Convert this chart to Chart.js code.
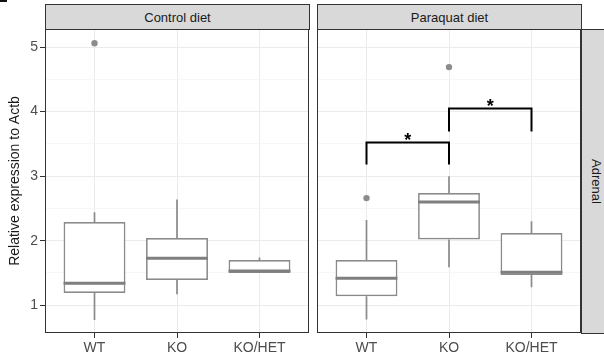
<!DOCTYPE html>
<html>
<head>
<meta charset="utf-8">
<script src="https://cdn.jsdelivr.net/npm/chart.js@4.4.1/dist/chart.umd.min.js"></script>
<style>
  body { margin: 0; background: #fff; width: 604px; height: 355px; overflow: hidden; position: relative; font-family: "Liberation Sans", Arial, sans-serif; }
  canvas { position: absolute; top: 0; }
  .strip { position: absolute; background: #d9d9d9; border: 1px solid #333; box-sizing: border-box; color: #1a1a1a; font-size: 13px; display: flex; align-items: center; justify-content: center; }
  .vert span { transform: rotate(90deg); white-space: nowrap; }
  .corner { position: absolute; left: 0; top: 0; width: 7px; height: 2px; background: #111; }
</style>
</head>
<body>
<div class="corner"></div>
<canvas id="left" width="314" height="355" style="left:0"></canvas>
<canvas id="right" width="274" height="355" style="left:312px"></canvas>
<div class="strip" style="left:45px;top:4px;width:265px;height:26px">Control diet</div>
<div class="strip" style="left:317px;top:4px;width:265px;height:26px">Paraquat diet</div>
<div class="strip vert" style="left:581px;top:29px;width:30px;height:305px"><span>Adrenal</span></div>
<script>
const categories = ['WT', 'KO', 'KO/HET'];
const yTicks = [1, 1.5, 2, 2.5, 3, 3.5, 4, 4.5, 5];

// Control diet
const controlMin = [0.77, 1.17, 1.50];
const controlQ1 = [1.19, 1.39, 1.50];
const controlMedian = [1.34, 1.73, 1.53];
const controlQ3 = [2.29, 2.04, 1.70];
const controlMax = [2.44, 2.64, 1.74];
const controlOutliers = [[5.06], [], []];

// Paraquat diet
const paraquatMin = [0.78, 1.59, 1.28];
const paraquatQ1 = [1.14, 2.02, 1.47];
const paraquatMedian = [1.42, 2.60, 1.51];
const paraquatQ3 = [1.70, 2.74, 2.12];
const paraquatMax = [2.32, 3.00, 2.30];
const paraquatOutliers = [[2.66], [4.69], []];

// significance brackets: [from, to, bottom left, bottom right, top]
const brackets = [[1, 2, 3.18, 3.18, 3.52], [2, 3, 3.69, 3.69, 4.05]];
const sigLabels = ['*', '*'];
const sigY = [3.61, 4.14];

const boxColor = '#8a8a8a';

function buildDatasets(mins, q1, med, q3, maxs, outl, withBrackets) {
  const whiskers = [], medians = [], points = [];
  categories.forEach((c, i) => {
    const x = i + 1;
    whiskers.push({x: x, y: q3[i]}, {x: x, y: maxs[i]}, {x: x, y: null});
    whiskers.push({x: x, y: q1[i]}, {x: x, y: mins[i]}, {x: x, y: null});
    medians.push({x: x - 0.375, y: med[i]}, {x: x + 0.375, y: med[i]}, {x: x, y: null});
    outl[i].forEach(v => points.push({x: x, y: v}));
  });
  const ds = [
    {type: 'bar', data: categories.map((c, i) => ({x: i + 1, y: [q1[i], q3[i]]})),
      backgroundColor: '#fff', borderColor: boxColor, borderWidth: 1.7, borderSkipped: false,
      categoryPercentage: 1, barPercentage: 0.75, order: 5},
    {type: 'line', data: whiskers, borderColor: boxColor, borderWidth: 1.7, pointRadius: 0, order: 4},
    {type: 'line', data: medians, borderColor: '#7f7f7f', borderWidth: 3, pointRadius: 0, order: 3},
    {type: 'scatter', data: points, backgroundColor: '#8c8c8c', borderWidth: 0, pointRadius: 3.2, order: 2}
  ];
  if (withBrackets) {
    const b = [];
    brackets.forEach(r => {
      b.push({x: r[0], y: r[2]}, {x: r[0], y: r[4]}, {x: r[1], y: r[4]}, {x: r[1], y: r[3]}, {x: r[1], y: null});
    });
    ds.push({type: 'line', data: b, borderColor: '#000', borderWidth: 2, pointRadius: 0, order: 1});
  }
  return ds;
}

const panelBorder = {
  id: 'panelBorder',
  afterDraw(chart) {
    const a = chart.chartArea, ctx = chart.ctx;
    ctx.save();
    ctx.strokeStyle = '#333';
    ctx.lineWidth = 1;
    ctx.strokeRect(Math.round(a.left) + 0.5, Math.round(a.top) + 0.5, Math.round(a.width) - 1, Math.round(a.height) - 1);
    ctx.restore();
  }
};

const stars = {
  id: 'stars',
  afterDatasetsDraw(chart) {
    if (!chart.options.plugins.stars.show) return;
    const ctx = chart.ctx, xs = chart.scales.x, ys = chart.scales.y;
    ctx.save();
    ctx.font = 'bold 18px "Liberation Sans", Arial, sans-serif';
    ctx.fillStyle = '#000';
    ctx.textAlign = 'center';
    ctx.textBaseline = 'middle';
    brackets.forEach((r, i) => {
      ctx.fillText(sigLabels[i], xs.getPixelForValue((r[0] + r[1]) / 2), ys.getPixelForValue(sigY[i]) + 4);
    });
    ctx.restore();
  }
};

function makeOptions(isLeft) {
  return {
    responsive: false,
    animation: false,
    layout: {padding: {top: 29, right: 5, left: isLeft ? 0 : 5, bottom: 0}},
    plugins: {legend: {display: false}, tooltip: {enabled: false}, stars: {show: !isLeft}},
    scales: {
      x: {
        type: 'linear', min: 0.4, max: 3.6, offset: false,
        afterBuildTicks: s => { s.ticks = [1, 2, 3].map(v => ({value: v})); },
        afterFit: s => { s.height = 22; },
        ticks: {autoSkip: false, padding: 2, color: '#4d4d4d', font: {size: 14, family: '"Liberation Sans", Arial'},
          callback: v => categories[v - 1]},
        grid: {offset: false, color: '#ebebeb', lineWidth: 1, tickColor: '#333', tickLength: 5},
        border: {display: false}
      },
      y: {
        min: 0.57, max: 5.28,
        afterBuildTicks: s => { s.ticks = yTicks.map(v => ({value: v})); },
        afterFit: s => { s.width = isLeft ? 45 : 0; },
        ticks: {display: isLeft, autoSkip: false, padding: 2, color: '#4d4d4d', font: {size: 14, family: '"Liberation Sans", Arial'},
          callback: v => Number.isInteger(v) ? String(v) : ''},
        grid: {
          drawTicks: isLeft, tickLength: 5,
          color: c => Number.isInteger(c.tick && c.tick.value) ? '#ebebeb' : '#f4f4f4',
          lineWidth: c => Number.isInteger(c.tick && c.tick.value) ? 1 : 0.7,
          tickColor: c => Number.isInteger(c.tick && c.tick.value) ? '#333' : 'rgba(0,0,0,0)'
        },
        border: {display: false},
        title: {display: isLeft, text: 'Relative expression to Actb', color: '#1a1a1a',
          font: {size: 14, family: '"Liberation Sans", Arial'}, padding: {top: 7, bottom: 0}}
      }
    }
  };
}

new Chart(document.getElementById('left'), {
  type: 'bar',
  data: {datasets: buildDatasets(controlMin, controlQ1, controlMedian, controlQ3, controlMax, controlOutliers, false)},
  options: makeOptions(true),
  plugins: [panelBorder, stars]
});

new Chart(document.getElementById('right'), {
  type: 'bar',
  data: {datasets: buildDatasets(paraquatMin, paraquatQ1, paraquatMedian, paraquatQ3, paraquatMax, paraquatOutliers, true)},
  options: makeOptions(false),
  plugins: [panelBorder, stars]
});
</script>
</body>
</html>
